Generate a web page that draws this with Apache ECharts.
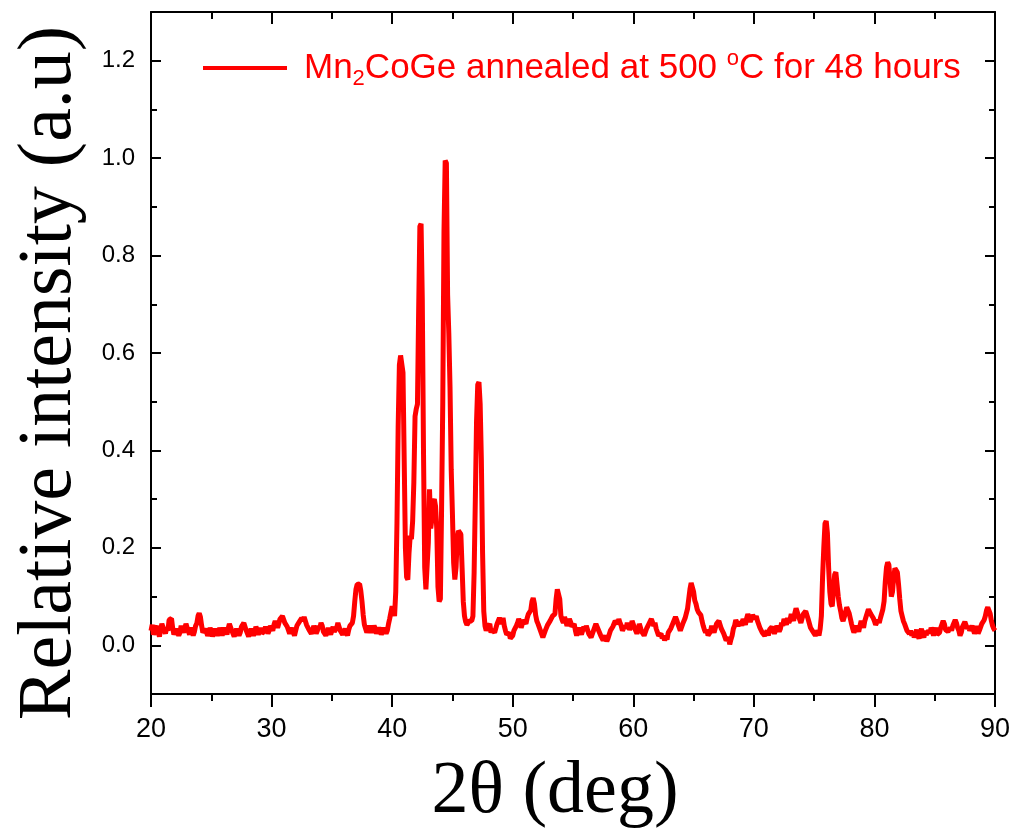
<!DOCTYPE html>
<html>
<head>
<meta charset="utf-8">
<script src="https://cdn.jsdelivr.net/npm/echarts@6/dist/echarts.min.js"></script>
<style>
html,body{margin:0;padding:0;background:#fff;}
#chart{width:1020px;height:838px;}
</style>
</head>
<body>
<div id="chart"></div>
<script>
// 2θ (deg), relative intensity pairs
const seg20to40 = [
[20.0,0.030],[20.1,0.042],[20.2,0.022],[20.3,0.020],[20.4,0.035],[20.5,0.040],[20.6,0.025],[20.7,0.018],[20.8,0.032],[20.9,0.044],
[21.0,0.040],[21.1,0.030],[21.2,0.024],[21.3,0.036],[21.4,0.030],[21.5,0.052],[21.6,0.050],[21.7,0.055],[21.8,0.035],[21.9,0.022],
[22.0,0.018],[22.1,0.034],[22.2,0.030],[22.3,0.020],[22.4,0.026],[22.5,0.040],[22.6,0.038],[22.7,0.026],[22.8,0.030],[22.9,0.044],
[23.0,0.040],[23.1,0.028],[23.2,0.022],[23.3,0.036],[23.4,0.030],[23.5,0.020],[23.6,0.028],[23.7,0.040],[23.8,0.045],[23.9,0.060],
[24.0,0.066],[24.1,0.058],[24.2,0.040],[24.3,0.026],[24.4,0.022],[24.5,0.034],[24.6,0.030],[24.7,0.020],[24.8,0.025],[24.9,0.036],
[25.0,0.028],[25.1,0.018],[25.2,0.022],[25.3,0.034],[25.4,0.030],[25.5,0.020],[25.6,0.026],[25.7,0.036],[25.8,0.032],[25.9,0.020],
[26.0,0.024],[26.1,0.036],[26.2,0.030],[26.3,0.022],[26.4,0.034],[26.5,0.044],[26.6,0.040],[26.7,0.030],[26.8,0.028],[26.9,0.018],
[27.0,0.022],[27.1,0.034],[27.2,0.030],[27.3,0.020],[27.4,0.026],[27.5,0.038],[27.6,0.034],[27.7,0.046],[27.8,0.042],[27.9,0.030],
[28.0,0.030],[28.1,0.018],[28.2,0.020],[28.3,0.034],[28.4,0.030],[28.5,0.020],[28.6,0.026],[28.7,0.038],[28.8,0.032],[28.9,0.022],
[29.0,0.028],[29.1,0.036],[29.2,0.024],[29.3,0.020],[29.4,0.030],[29.5,0.038],[29.6,0.032],[29.7,0.024],[29.8,0.030],[29.9,0.040],
[30.0,0.036],[30.1,0.030],[30.2,0.042],[30.3,0.050],[30.4,0.046],[30.5,0.036],[30.6,0.040],[30.7,0.054],[30.8,0.052],[30.9,0.060],
[31.0,0.058],[31.1,0.046],[31.2,0.050],[31.3,0.038],[31.4,0.034],[31.5,0.024],[31.6,0.028],[31.7,0.036],[31.8,0.026],[31.9,0.020],
[32.0,0.030],[32.1,0.040],[32.2,0.036],[32.3,0.048],[32.4,0.046],[32.5,0.056],[32.6,0.050],[32.7,0.058],[32.8,0.054],[32.9,0.042],
[33.0,0.044],[33.1,0.032],[33.2,0.034],[33.3,0.024],[33.4,0.030],[33.5,0.040],[33.6,0.036],[33.7,0.024],[33.8,0.030],[33.9,0.040],
[34.0,0.034],[34.1,0.046],[34.2,0.040],[34.3,0.028],[34.4,0.030],[34.5,0.020],[34.6,0.026],[34.7,0.036],[34.8,0.032],[34.9,0.022],
[35.0,0.030],[35.1,0.038],[35.2,0.028],[35.3,0.024],[35.4,0.036],[35.5,0.046],[35.6,0.042],[35.7,0.030],[35.8,0.034],[35.9,0.022],
[36.0,0.028],[36.1,0.034],[36.2,0.026],[36.3,0.020],[36.4,0.032],[36.5,0.040],[36.6,0.038],[36.7,0.046],[36.8,0.060],[36.9,0.090],
[37.0,0.115],[37.1,0.125],[37.2,0.128],[37.3,0.126],[37.4,0.112],[37.5,0.090],[37.6,0.062],[37.7,0.042],[37.8,0.034],[37.9,0.026],
[38.0,0.030],[38.1,0.040],[38.2,0.036],[38.3,0.026],[38.4,0.030],[38.5,0.040],[38.6,0.034],[38.7,0.024],[38.8,0.028],[38.9,0.036],
[39.0,0.030],[39.1,0.022],[39.2,0.026],[39.3,0.036],[39.4,0.034],[39.5,0.024],[39.6,0.030],[39.7,0.044],[39.8,0.055],[39.9,0.068]
];
const seg40to48 = [
[40.0,0.080],[40.1,0.072],[40.2,0.060],[40.3,0.110],[40.4,0.250],[40.5,0.450],[40.6,0.575],[40.7,0.595],[40.8,0.592],[40.9,0.560],
[41.0,0.380],[41.1,0.200],[41.2,0.140],[41.3,0.135],[41.4,0.190],[41.5,0.225],[41.6,0.218],[41.7,0.255],[41.8,0.335],[41.9,0.470],
[42.0,0.485],[42.1,0.495],[42.2,0.690],[42.3,0.860],[42.4,0.865],[42.5,0.710],[42.6,0.400],[42.7,0.160],[42.8,0.115],[42.9,0.115],
[43.0,0.210],[43.1,0.320],[43.2,0.240],[43.3,0.260],[43.4,0.295],[43.5,0.300],[43.6,0.285],[43.7,0.240],[43.8,0.120],[43.9,0.090],
[44.0,0.095],[44.1,0.280],[44.2,0.500],[44.3,0.850],[44.4,0.995],[44.5,0.990],[44.6,0.720],[44.7,0.640],[44.8,0.530],[44.9,0.360],
[45.0,0.270],[45.1,0.170],[45.2,0.135],[45.3,0.160],[45.4,0.220],[45.5,0.235],[45.6,0.238],[45.7,0.228],[45.8,0.160],[45.9,0.090],
[46.0,0.060],[46.1,0.048],[46.2,0.042],[46.3,0.046],[46.4,0.050],[46.5,0.054],[46.6,0.050],[46.7,0.060],[46.8,0.150],[46.9,0.300],
[47.0,0.460],[47.1,0.535],[47.2,0.540],[47.3,0.495],[47.4,0.380],[47.5,0.190],[47.6,0.070],[47.7,0.040],[47.8,0.030]
];
const seg48to70 = [
[47.9,0.036],[48.0,0.034],[48.1,0.044],[48.2,0.026],[48.3,0.032],[48.4,0.036],[48.5,0.026],[48.6,0.030],[48.7,0.044],[48.8,0.040],
[48.9,0.056],[49.0,0.052],[49.1,0.044],[49.2,0.056],[49.3,0.040],[49.4,0.030],[49.5,0.022],[49.6,0.018],[49.7,0.026],[49.8,0.014],
[49.9,0.016],[50.0,0.020],[50.1,0.030],[50.2,0.032],[50.3,0.040],[50.4,0.046],[50.5,0.054],[50.6,0.048],[50.7,0.036],[50.8,0.040],
[50.9,0.052],[51.0,0.050],[51.1,0.044],[51.2,0.056],[51.3,0.064],[51.4,0.060],[51.5,0.072],[51.6,0.090],[51.7,0.097],[51.8,0.085],
[51.9,0.062],[52.0,0.050],[52.1,0.044],[52.2,0.040],[52.3,0.030],[52.4,0.026],[52.5,0.016],[52.6,0.020],[52.7,0.030],[52.8,0.030],
[52.9,0.042],[53.0,0.040],[53.1,0.050],[53.2,0.046],[53.3,0.060],[53.4,0.056],[53.5,0.064],[53.6,0.095],[53.7,0.115],[53.8,0.118],
[53.9,0.095],[54.0,0.060],[54.1,0.052],[54.2,0.046],[54.3,0.058],[54.4,0.050],[54.5,0.040],[54.6,0.044],[54.7,0.054],[54.8,0.048],
[54.9,0.038],[55.0,0.036],[55.1,0.044],[55.2,0.030],[55.3,0.020],[55.4,0.024],[55.5,0.036],[55.6,0.034],[55.7,0.022],[55.8,0.026],
[55.9,0.038],[56.0,0.030],[56.1,0.040],[56.2,0.036],[56.3,0.024],[56.4,0.028],[56.5,0.016],[56.6,0.018],[56.7,0.030],[56.8,0.030],
[56.9,0.044],[57.0,0.042],[57.1,0.032],[57.2,0.030],[57.3,0.020],[57.4,0.020],[57.5,0.010],[57.6,0.012],[57.7,0.020],[57.8,0.008],
[57.9,0.014],[58.0,0.018],[58.1,0.030],[58.2,0.026],[58.3,0.038],[58.4,0.040],[58.5,0.050],[58.6,0.052],[58.7,0.044],[58.8,0.054],
[58.9,0.046],[59.0,0.040],[59.1,0.030],[59.2,0.028],[59.3,0.040],[59.4,0.034],[59.5,0.046],[59.6,0.044],[59.7,0.032],[59.8,0.038],
[59.9,0.050],[60.0,0.048],[60.1,0.036],[60.2,0.040],[60.3,0.024],[60.4,0.030],[60.5,0.044],[60.6,0.042],[60.7,0.028],[60.8,0.030],
[60.9,0.020],[61.0,0.024],[61.1,0.034],[61.2,0.030],[61.3,0.044],[61.4,0.040],[61.5,0.054],[61.6,0.050],[61.7,0.040],[61.8,0.046],
[61.9,0.034],[62.0,0.030],[62.1,0.020],[62.2,0.018],[62.3,0.024],[62.4,0.014],[62.5,0.020],[62.6,0.010],[62.7,0.018],[62.8,0.012],
[62.9,0.026],[63.0,0.024],[63.1,0.034],[63.2,0.036],[63.3,0.046],[63.4,0.050],[63.5,0.058],[63.6,0.052],[63.7,0.044],[63.8,0.040],
[63.9,0.030],[64.0,0.034],[64.1,0.044],[64.2,0.046],[64.3,0.056],[64.4,0.060],[64.5,0.075],[64.6,0.095],[64.7,0.115],[64.8,0.128],
[64.9,0.130],[65.0,0.110],[65.1,0.092],[65.2,0.085],[65.3,0.074],[65.4,0.068],[65.5,0.070],[65.6,0.062],[65.7,0.050],[65.8,0.040],
[65.9,0.032],[66.0,0.026],[66.1,0.032],[66.2,0.020],[66.3,0.024],[66.4,0.028],[66.5,0.040],[66.6,0.036],[66.7,0.026],[66.8,0.030],
[66.9,0.044],[67.0,0.040],[67.1,0.050],[67.2,0.046],[67.3,0.034],[67.4,0.036],[67.5,0.024],[67.6,0.020],[67.7,0.010],[67.8,0.008],
[67.9,0.016],[68.0,0.002],[68.1,0.012],[68.2,0.020],[68.3,0.034],[68.4,0.040],[68.5,0.052],[68.6,0.050],[68.7,0.040],[68.8,0.036],
[68.9,0.048],[69.0,0.040],[69.1,0.054],[69.2,0.050],[69.3,0.042],[69.4,0.055],[69.5,0.064],[69.6,0.060],[69.7,0.048],[69.8,0.052],
[69.9,0.062]
];
const seg70to90 = [
[70.0,0.066],[70.1,0.054],[70.2,0.060],[70.3,0.050],[70.4,0.048],[70.5,0.036],[70.6,0.040],[70.7,0.026],[70.8,0.030],[70.9,0.020],
[71.0,0.024],[71.1,0.030],[71.2,0.020],[71.3,0.032],[71.4,0.028],[71.5,0.038],[71.6,0.034],[71.7,0.024],[71.8,0.030],[71.9,0.040],
[72.0,0.036],[72.1,0.028],[72.2,0.034],[72.3,0.046],[72.4,0.040],[72.5,0.054],[72.6,0.050],[72.7,0.042],[72.8,0.056],[72.9,0.046],
[73.0,0.052],[73.1,0.064],[73.2,0.060],[73.3,0.050],[73.4,0.066],[73.5,0.076],[73.6,0.072],[73.7,0.060],[73.8,0.058],[73.9,0.046],
[74.0,0.050],[74.1,0.064],[74.2,0.062],[74.3,0.070],[74.4,0.066],[74.5,0.054],[74.6,0.050],[74.7,0.036],[74.8,0.040],[74.9,0.028],
[75.0,0.030],[75.1,0.020],[75.2,0.022],[75.3,0.030],[75.4,0.020],[75.5,0.034],[75.6,0.060],[75.7,0.140],[75.8,0.200],[75.9,0.250],
[76.0,0.255],[76.1,0.230],[76.2,0.160],[76.3,0.110],[76.4,0.085],[76.5,0.080],[76.6,0.110],[76.7,0.145],[76.8,0.150],[76.9,0.125],
[77.0,0.100],[77.1,0.082],[77.2,0.070],[77.3,0.056],[77.4,0.050],[77.5,0.058],[77.6,0.062],[77.7,0.078],[77.8,0.075],[77.9,0.066],
[78.0,0.055],[78.1,0.044],[78.2,0.034],[78.3,0.026],[78.4,0.030],[78.5,0.040],[78.6,0.036],[78.7,0.028],[78.8,0.040],[78.9,0.050],
[79.0,0.046],[79.1,0.036],[79.2,0.050],[79.3,0.058],[79.4,0.062],[79.5,0.074],[79.6,0.075],[79.7,0.064],[79.8,0.068],[79.9,0.056],
[80.0,0.050],[80.1,0.042],[80.2,0.040],[80.3,0.052],[80.4,0.046],[80.5,0.056],[80.6,0.060],[80.7,0.074],[80.8,0.090],[80.9,0.130],
[81.0,0.160],[81.1,0.170],[81.2,0.165],[81.3,0.130],[81.4,0.100],[81.5,0.110],[81.6,0.140],[81.7,0.158],[81.8,0.160],[81.9,0.150],
[82.0,0.125],[82.1,0.095],[82.2,0.070],[82.3,0.060],[82.4,0.050],[82.5,0.044],[82.6,0.040],[82.7,0.030],[82.8,0.034],[82.9,0.024],
[83.0,0.030],[83.1,0.020],[83.2,0.026],[83.3,0.016],[83.4,0.024],[83.5,0.032],[83.6,0.020],[83.7,0.014],[83.8,0.026],[83.9,0.034],
[84.0,0.022],[84.1,0.016],[84.2,0.030],[84.3,0.022],[84.4,0.018],[84.5,0.030],[84.6,0.024],[84.7,0.036],[84.8,0.030],[84.9,0.020],
[85.0,0.028],[85.1,0.036],[85.2,0.022],[85.3,0.018],[85.4,0.026],[85.5,0.036],[85.6,0.040],[85.7,0.050],[85.8,0.044],[85.9,0.032],
[86.0,0.036],[86.1,0.028],[86.2,0.024],[86.3,0.036],[86.4,0.030],[86.5,0.040],[86.6,0.042],[86.7,0.052],[86.8,0.046],[86.9,0.036],
[87.0,0.030],[87.1,0.020],[87.2,0.026],[87.3,0.038],[87.4,0.036],[87.5,0.048],[87.6,0.044],[87.7,0.034],[87.8,0.040],[87.9,0.030],
[88.0,0.028],[88.1,0.040],[88.2,0.036],[88.3,0.024],[88.4,0.030],[88.5,0.040],[88.6,0.024],[88.7,0.030],[88.8,0.034],[88.9,0.044],
[89.0,0.040],[89.1,0.052],[89.2,0.060],[89.3,0.072],[89.4,0.078],[89.5,0.082],[89.6,0.065],[89.7,0.050],[89.8,0.040],[89.9,0.034],
[90.0,0.030]
];
const yMajorTicks = [0.0, 0.2, 0.4, 0.6, 0.8, 1.0, 1.2];
const xTickLabels = [20, 30, 40, 50, 60, 70, 80, 90];
const seriesName = 'Mn2CoGe annealed at 500 oC for 48 hours';

const xrd = seg20to40.concat(seg40to48, seg48to70, seg70to90);

const chart = echarts.init(document.getElementById('chart'), null, {renderer: 'canvas'});
const black = '#000';
const axisLineStyle = {color: black, width: 2};

function yAxisDef(pos, major) {
  const base = {
    type: 'value', min: -0.1, max: 1.3, position: pos,
    splitLine: {show: false},
  };
  if (major) {
    return Object.assign(base, {
      axisLine: {show: true, onZero: false, lineStyle: axisLineStyle},
      axisTick: {show: true, inside: true, length: 10, lineStyle: {color: black, width: 2}, customValues: yMajorTicks},
      axisLabel: pos === 'left' ? {
        show: true, customValues: yMajorTicks, formatter: v => Number(v).toFixed(1),
        color: black, fontSize: 24, fontFamily: 'Liberation Sans, Arial, sans-serif', margin: 16
      } : {show: false}
    });
  }
  return Object.assign(base, {
    interval: 0.2,
    axisLine: {show: false},
    axisTick: {show: true, inside: true, length: 6, lineStyle: {color: black, width: 2}},
    axisLabel: {show: false}
  });
}

const yLeft = yAxisDef('left', true);
yLeft.name = 'Relative intensity (a.u)';
yLeft.nameLocation = 'middle';
yLeft.nameRotate = 90;
yLeft.nameGap = 63;
yLeft.nameTextStyle = {fontFamily: 'Liberation Serif, Times New Roman, serif', fontSize: 76, color: black, padding: [0, 40, 0, 0]};

const option = {
  animation: false,
  backgroundColor: '#fff',
  grid: {left: 151, right: 25, top: 12, bottom: 144, containLabel: false, outerBoundsMode: 'none'},
  legend: {
    show: true,
    left: 203, top: 48,
    itemWidth: 84, itemHeight: 20,
    padding: 0,
    data: [{name: seriesName, icon: 'path://M0,8 L84,8 L84,12 L0,12 Z'}],
    formatter: () => 'Mn{sub|2}CoGe annealed at 500 {sup|o}C for 48 hours',
    textStyle: {
      color: '#ff0000', fontSize: 35, fontFamily: 'Liberation Sans, Arial, sans-serif', padding: [0, 0, 0, 12],
      rich: {
        sub: {fontSize: 22, color: '#ff0000', fontFamily: 'Liberation Sans, Arial, sans-serif', padding: [22, 0, 0, 0]},
        sup: {fontSize: 22, color: '#ff0000', fontFamily: 'Liberation Sans, Arial, sans-serif', padding: [0, 0, 18, 0]}
      }
    }
  },
  xAxis: [
    {
      type: 'value', min: 20, max: 90, interval: 10, position: 'bottom',
      axisLine: {show: true, onZero: false, lineStyle: axisLineStyle},
      axisTick: {show: true, inside: false, length: 13, lineStyle: {color: black, width: 2}},
      minorTick: {show: true, splitNumber: 2, length: 7, lineStyle: {color: black, width: 2}},
      axisLabel: {
        show: true, customValues: xTickLabels, color: black, fontSize: 27, margin: 22,
        fontFamily: 'Liberation Sans Narrow, Arial Narrow, Liberation Sans, sans-serif'
      },
      splitLine: {show: false},
      name: '2θ (deg)', nameLocation: 'middle', nameGap: 62,
      nameTextStyle: {fontFamily: 'Liberation Serif, Times New Roman, serif', fontSize: 74, color: black, padding: [0, 36, 0, 0]}
    },
    {
      type: 'value', min: 20, max: 90, interval: 10, position: 'top',
      axisLine: {show: true, onZero: false, lineStyle: axisLineStyle},
      axisTick: {show: true, inside: true, length: 12, lineStyle: {color: black, width: 2}},
      minorTick: {show: true, splitNumber: 2, length: 7, lineStyle: {color: black, width: 2}},
      axisLabel: {show: false},
      splitLine: {show: false}
    }
  ],
  yAxis: [yLeft, yAxisDef('left', false), yAxisDef('right', true), yAxisDef('right', false)],
  series: [{
    name: seriesName,
    type: 'line',
    xAxisIndex: 0, yAxisIndex: 0,
    data: xrd,
    showSymbol: false,
    symbol: 'none',
    lineStyle: {color: '#ff0000', width: 5},
    itemStyle: {color: '#ff0000'}
  }]
};
chart.setOption(option);
</script>
</body>
</html>
